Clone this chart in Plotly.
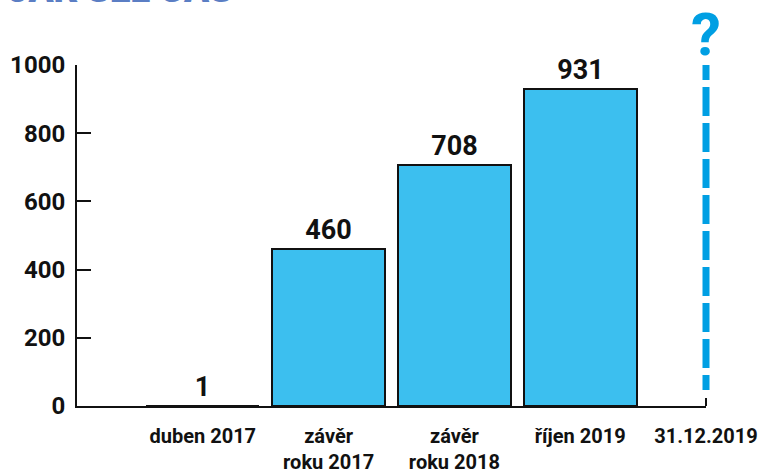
import plotly.graph_objects as go

categories = ["duben 2017", "závěr<br>roku 2017", "závěr<br>roku 2018", "říjen 2019", "31.12.2019"]
values = [1, 460, 708, 931]
value_labels = ["1", "460", "708", "931"]
y_ticks = [0, 200, 400, 600, 800, 1000]
future_label = "?"
future_low = 47
future_high = 1000
title_text = "JAK ŠEL ČAS"

x_pos = list(range(len(categories)))
bar_x = x_pos[:len(values)]
last_x = x_pos[-1]

FONT = "Roboto, sans-serif"
NARROW = "Liberation Sans Narrow, Roboto, sans-serif"
BAR_COLOR = "#3cbfef"
DASH_COLOR = "#009fe3"
DASH_PATTERN = "15px,7px," + "29px,7px," * 8 + "15px,200px"

fig = go.Figure()
fig.add_trace(go.Bar(
    x=bar_x, y=values, width=0.9,
    marker=dict(color=BAR_COLOR, line=dict(color="#111111", width=2)),
    text=value_labels, textposition="outside", cliponaxis=False,
    textfont=dict(family=FONT, size=27, color="#111111", weight="bold"),
    hoverinfo="skip",
))

# dashed "future" line at the last category (right end of the x axis), drawn top-down
fig.add_shape(type="line", xref="x domain", yref="y", x0=1, x1=1,
              y0=future_high, y1=future_low,
              line=dict(color=DASH_COLOR, width=7, dash=DASH_PATTERN))
fig.add_annotation(x=last_x, y=future_high, xref="x", yref="y", text=future_label,
                   showarrow=False, yanchor="bottom", yshift=-7,
                   font=dict(family=NARROW, size=60, color=DASH_COLOR, weight="bold"))

# cut-off title at the top
fig.add_annotation(xref="paper", yref="paper", x=0, y=1, xanchor="left", yanchor="bottom",
                   xshift=-71, yshift=52, text=title_text, showarrow=False,
                   font=dict(family="Roboto", size=37, color="#5b7ec4", weight=900))

fig.update_layout(
    width=761, height=471,
    margin=dict(l=77, r=55, t=65, b=65),
    paper_bgcolor="white", plot_bgcolor="white",
    showlegend=False, bargap=0,
    xaxis=dict(
        range=[x_pos[0] - 1, last_x],
        tickvals=x_pos, ticktext=categories,
        showline=True, linecolor="#111111", linewidth=2,
        showgrid=False, zeroline=False, ticks="", automargin=False,
        tickfont=dict(family=FONT, size=20, color="#111111", weight="bold"),
        ticklabelstandoff=11,
        minor=dict(ticks="inside", tick0=last_x, dtick=100, ticklen=8, tickwidth=2,
                   tickcolor="#111111", showgrid=False),
        fixedrange=True,
    ),
    yaxis=dict(
        range=[y_ticks[0], y_ticks[-1]],
        tickvals=y_ticks,
        showline=True, linecolor="#111111", linewidth=2,
        showgrid=False, zeroline=False, automargin=False,
        ticks="inside", ticklen=14, tickwidth=2, tickcolor="#111111",
        tickfont=dict(family=FONT, size=24, color="#111111", weight="bold"),
        ticklabelstandoff=5,
        fixedrange=True,
    ),
)

fig.write_html("out.html", config={"displayModeBar": False},
               post_script="document.body.style.margin='0';")
